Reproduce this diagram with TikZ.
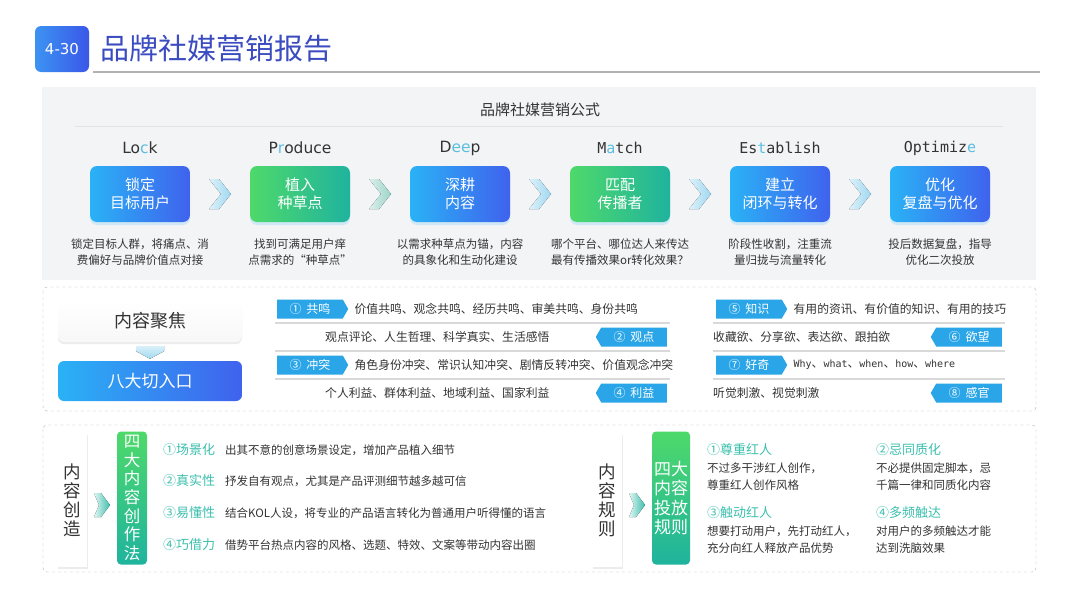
\documentclass[tikz,border=0pt]{standalone}
\usepackage{fontspec}
\setmainfont{Noto Sans CJK SC}
\newfontfamily\latinsans{DejaVu Sans}
\newfontfamily\latinmono{DejaVu Sans Mono}
\usepackage{tikz}
\usetikzlibrary{arrows.meta,positioning,shapes.symbols,shadows,calc}
\definecolor{titleblue}{HTML}{3A4CC0}
\definecolor{badgecyan}{HTML}{3C93F2}
\definecolor{badgeblue}{HTML}{3A57E8}
\definecolor{boxcyan}{HTML}{2AB2F5}
\definecolor{boxblue}{HTML}{3F62EE}
\definecolor{boxgreen}{HTML}{4ED96A}
\definecolor{boxteal}{HTML}{1FB39E}
\definecolor{tagblue}{HTML}{2AA5E8}
\definecolor{itemteal}{HTML}{3CBFAE}
\definecolor{txtdark}{HTML}{333333}
\definecolor{panelgray}{HTML}{F3F4F6}
\definecolor{chevblue}{HTML}{9FD8F0}
\definecolor{chevteal}{HTML}{9CD3C8}
\definecolor{hilite}{HTML}{5BBFE0}
\newcommand{\fsz}[2]{\fontsize{#1}{#2}\selectfont}

\begin{document}
\begin{tikzpicture}[
  x=1pt,y=-1pt,
  stepbox/.style={rounded corners=7pt,minimum width=100pt,minimum height=56pt,
    align=center,text=white,font=\fsz{15}{18},
    drop shadow={shadow xshift=0pt,shadow yshift=-3pt,opacity=.18,fill=boxcyan}},
  bluestep/.style={stepbox,left color=boxcyan,right color=boxblue},
  greenstep/.style={stepbox,left color=boxgreen,right color=boxteal},
  stepname/.style={font=\latinsans\fsz{15.5}{16},text=txtdark},
  mononame/.style={font=\latinmono\fsz{15}{16},text=txtdark},
  stepnote/.style={align=center,font=\fsz{11.5}{16.5},text=txtdark},
  chevron/.pic={\fill[pic actions] (-11,-15) -- (-1,-15) -- (11,0) -- (-1,15)
    -- (-11,15) -- (1,0) -- cycle;},
  smallchev/.pic={\fill[pic actions] (-8,-12) -- (-1,-12) -- (8,0) -- (-1,12)
    -- (-8,12) -- (-3,0) -- cycle;},
  whitebar/.style={rounded corners=6pt,minimum width=184pt,minimum height=42pt,
    top color=white,bottom color=gray!6,font=\fsz{18}{18},text=txtdark,
    drop shadow={shadow xshift=0pt,shadow yshift=-2pt,opacity=.15}},
  bluebar/.style={rounded corners=6pt,minimum width=184pt,minimum height=40pt,
    left color=boxcyan,right color=boxblue,font=\fsz{17}{17},text=white},
  tagr/.style={signal,signal to=east,signal pointer angle=120,fill=tagblue,
    text=white,font=\fsz{12}{12},minimum width=71pt,minimum height=19pt,inner sep=1pt},
  tagl/.style={tagr,signal to=west},
  rowtext/.style={anchor=west,font=\fsz{11.8}{12},text=txtdark,inner sep=0pt},
  sep/.style={gray!30,line width=1.3pt},
  sidebox/.style={minimum width=30pt,minimum height=134pt,fill=white,align=center,
    font=\fsz{17.5}{19},text=txtdark,inner sep=0pt,
    drop shadow={shadow xshift=1pt,shadow yshift=-2pt,opacity=.15}},
  greenbox/.style={rounded corners=4pt,minimum height=133pt,top color=boxgreen,
    bottom color=boxteal,align=center,text=white,inner sep=0pt},
  itemhead/.style={anchor=west,font=\fsz{13}{13},text=itemteal,inner sep=0pt},
  itemtext/.style={anchor=west,font=\fsz{11.5}{17},text=txtdark,align=left,inner sep=0pt}
]
\useasboundingbox (0,0) rectangle (1080,608);
\fill[white] (0,0) rectangle (1080,608);

% title
\node[rounded corners=6pt,minimum width=54pt,minimum height=46pt,
  left color=badgecyan,right color=badgeblue,text=white,
  font=\latinsans\fsz{15}{15}] (badge) at (62,49) {4-30};
\node[anchor=west,font=\fsz{29}{29},text=titleblue] (title) at (97,49)
  {品牌社媒营销报告};
\draw[gray!60,line width=1.5pt] (93,72) -- (1040,72);

% (a) formula: six steps
\fill[panelgray] (42,87) rectangle (1036,280);
\node[font=\fsz{15}{15},text=txtdark] (formula) at (540,110) {品牌社媒营销公式};
\draw[gray!22,line width=1pt] (75,126) -- (1003,126);
\node[bluestep] (lock) at (140,194) {锁定\\目标用户};
\node[greenstep] (produce) at (300,194) {植入\\种草点};
\node[bluestep] (deep) at (460,194) {深耕\\内容};
\node[greenstep] (match) at (620,194) {匹配\\传播者};
\node[bluestep] (establish) at (780,194) {建立\\闭环与转化};
\node[bluestep] (optimize) at (940,194) {优化\\复盘与优化};
\node[stepname] (lockname) at (140,148) {Lo{\color{hilite}c}k};
\node[stepname] (producename) at (300,148) {P{\color{hilite}r}oduce};
\node[stepname] (deepname) at (460,148) {D{\color{hilite}ee}p};
\node[mononame] (matchname) at (620,148) {M{\color{hilite}a}tch};
\node[mononame] (establishname) at (780,148) {Es{\color{hilite}t}ablish};
\node[mononame] (optimizename) at (940,148) {Optimiz{\color{hilite}e}};
\node[stepnote] (locknote) at (140,252) {锁定目标人群，将痛点、消\\费偏好与品牌价值点对接};
\node[stepnote] (producenote) at (300,252) {找到可满足用户痒\\点需求的“种草点”};
\node[stepnote] (deepnote) at (460,252) {以需求种草点为锚，内容\\的具象化和生动化建设};
\node[stepnote] (matchnote) at (620,252) {哪个平台、哪位达人来传达\\最有传播效果or转化效果？};
\node[stepnote] (establishnote) at (780,252) {阶段性收割，注重流\\量归拢与流量转化};
\node[stepnote] (optimizenote) at (940,252) {投后数据复盘，指导\\优化二次投放};
\pic[left color=chevblue!35,right color=chevblue] at ($(lock.east)!0.5!(produce.west)$) {chevron};
\pic[left color=chevteal!35,right color=chevteal] at ($(produce.east)!0.5!(deep.west)$) {chevron};
\pic[left color=chevblue!35,right color=chevblue] at ($(deep.east)!0.5!(match.west)$) {chevron};
\pic[left color=chevblue!35,right color=chevblue] at ($(match.east)!0.5!(establish.west)$) {chevron};
\pic[left color=chevblue!35,right color=chevblue] at ($(establish.east)!0.5!(optimize.west)$) {chevron};

% (b) content focus: eight entry points
\draw[dashed,gray!60,rounded corners=4pt] (43,287) rectangle (1036,411);
\node[whitebar] (focus) at (150,321) {内容聚焦};
\node[bluebar] (entry) at (150,381) {八大切入口};
\fill[top color=chevblue!40,bottom color=chevblue]
  ($(focus.south)+(-14,4)$) -- ($(focus.south)+(14,4)$) -- ($(focus.south)+(14,9)$)
  -- ($(entry.north)+(0,-2)$) -- ($(focus.south)+(-14,9)$) -- cycle;
\draw[sep] (275,323) -- (670,323);
\draw[sep] (275,351) -- (670,351);
\draw[sep] (275,379) -- (670,379);
\draw[sep] (713,323) -- (1005,323);
\draw[sep] (713,351) -- (1005,351);
\draw[sep] (713,379) -- (1005,379);
\node[tagr] (t1) at (310,309) {①\hspace{5pt}共鸣};
\node[rowtext,right=6pt of t1] (r1) {价值共鸣、观念共鸣、经历共鸣、审美共鸣、身份共鸣};
\node[tagl] (t2) at (634,337) {②\hspace{5pt}观点};
\node[rowtext] (r2) at (325,337) {观点评论、人生哲理、科学真实、生活感悟};
\node[tagr] (t3) at (310,365) {③\hspace{5pt}冲突};
\node[rowtext,right=6pt of t3] (r3) {角色身份冲突、常识认知冲突、剧情反转冲突、价值观念冲突};
\node[tagl] (t4) at (634,393) {④\hspace{5pt}利益};
\node[rowtext] (r4) at (325,393) {个人利益、群体利益、地域利益、国家利益};
\node[tagr] (t5) at (749,309) {⑤\hspace{5pt}知识};
\node[rowtext,right=6pt of t5] (r5) {有用的资讯、有价值的知识、有用的技巧};
\node[tagl] (t6) at (969,337) {⑥\hspace{5pt}欲望};
\node[rowtext] (r6) at (713,337) {收藏欲、分享欲、表达欲、跟拍欲};
\node[tagr] (t7) at (749,365) {⑦\hspace{5pt}好奇};
\node[rowtext,right=6pt of t7] (r7) {{\latinmono\fsz{10}{12}Why}、{\latinmono\fsz{10}{12}what}、{\latinmono\fsz{10}{12}when}、{\latinmono\fsz{10}{12}how}、{\latinmono\fsz{10}{12}where}};
\node[tagl] (t8) at (969,393) {⑧\hspace{5pt}感官};
\node[rowtext] (r8) at (713,393) {听觉刺激、视觉刺激};

% (c) content creation and content rules
\draw[dashed,gray!60,rounded corners=4pt] (43,425) rectangle (1036,572);
\node[sidebox] (create) at (72,500) {内\\容\\创\\造};
\node[greenbox,minimum width=30pt,font=\fsz{16.5}{18.6}] (method) at (132,498)
  {四\\大\\内\\容\\创\\作\\法};
\pic[left color=itemteal!15,right color=itemteal] at ($(create.east)!0.5!(method.west)+(0,6)$) {smallchev};
\node[itemhead] (h1) at (163,450) {①场景化};
\node[itemtext] (d1) at (225,450) {出其不意的创意场景设定，增加产品植入细节};
\node[itemhead] (h2) at (163,481) {②真实性};
\node[itemtext] (d2) at (225,481) {抒发自有观点，尤其是产品评测细节越多越可信};
\node[itemhead] (h3) at (163,513) {③易懂性};
\node[itemtext] (d3) at (225,513) {结合KOL人设，将专业的产品语言转化为普通用户听得懂的语言};
\node[itemhead] (h4) at (163,545) {④巧借力};
\node[itemtext] (d4) at (225,545) {借势平台热点内容的风格、选题、特效、文案等带动内容出圈};

\node[sidebox] (rules) at (607,500) {内\\容\\规\\则};
\node[greenbox,minimum width=38pt,font=\fsz{17}{19.5}] (deliver) at (671,498)
  {四大\\内容\\投放\\规则};
\pic[left color=itemteal!15,right color=itemteal] at ($(rules.east)!0.5!(deliver.west)+(0,6)$) {smallchev};
\node[itemhead] (g1) at (707,450) {①尊重红人};
\node[itemtext] (e1) at (707,477) {不过多干涉红人创作，\\尊重红人创作风格};
\node[itemhead] (g2) at (876,450) {②忌同质化};
\node[itemtext] (e2) at (876,477) {不必提供固定脚本，忌\\千篇一律和同质化内容};
\node[itemhead] (g3) at (707,513) {③触动红人};
\node[itemtext] (e3) at (707,540) {想要打动用户，先打动红人，\\充分向红人释放产品优势};
\node[itemhead] (g4) at (876,513) {④多频触达};
\node[itemtext] (e4) at (876,540) {对用户的多频触达才能\\达到洗脑效果};
\end{tikzpicture}
\end{document}
